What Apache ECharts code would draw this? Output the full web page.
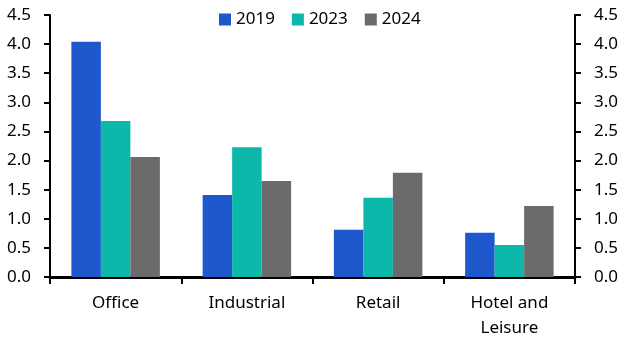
<!DOCTYPE html>
<html><head><meta charset="utf-8">
<script src="https://cdn.jsdelivr.net/npm/echarts@6/dist/echarts.min.js"></script>
<style>html,body{margin:0;padding:0;background:#fff}#c{width:628px;height:360px}</style>
</head><body><div id="c"></div>
<script>
const categories = ['Office', 'Industrial', 'Retail', 'Hotel and\nLeisure'];
const v2019 = [4.04, 1.41, 0.81, 0.76];
const v2023 = [2.68, 2.23, 1.36, 0.55];
const v2024 = [2.06, 1.65, 1.79, 1.22];
const yTicks = {min: 0, max: 4.5, interval: 0.5};

const FONT = 'Noto Sans';
const chart = echarts.init(document.getElementById('c'));
const yAxisBase = (pos) => ({
  type: 'value', position: pos, min: yTicks.min, max: yTicks.max, interval: yTicks.interval,
  axisLine: {show: true, lineStyle: {color: '#000', width: 2}},
  axisTick: {show: true, length: 6, lineStyle: {color: '#000', width: 2}},
  splitLine: {show: false},
  axisLabel: {color: '#000', fontFamily: FONT, fontSize: 17, margin: 19,
    formatter: v => v.toFixed(1)}
});
chart.setOption({
  animation: false,
  textStyle: {fontFamily: FONT},
  legend: {
    top: 6, left: 214, icon: 'rect', itemWidth: 12, itemHeight: 12, itemGap: 17, itemStyle: {borderWidth: 0},
    textStyle: {color: '#000', fontFamily: FONT, fontSize: 17},
    data: ['2019', '2023', '2024']
  },
  grid: {left: 50, right: 53, top: 15, bottom: 83, containLabel: false},
  xAxis: {
    type: 'category', data: categories,
    axisLine: {lineStyle: {color: '#000', width: 3}},
    axisTick: {show: true, length: 7, lineStyle: {color: '#000', width: 2}},
    axisLabel: {color: '#000', fontFamily: FONT, fontSize: 17, margin: 14, lineHeight: 25, interval: 0}
  },
  yAxis: [yAxisBase('left'), yAxisBase('right')],
  series: [
    {name: '2019', type: 'bar', data: v2019, barWidth: 29.5, barGap: '0%', itemStyle: {color: '#1f57cc'}},
    {name: '2023', type: 'bar', data: v2023, barWidth: 29.5, barGap: '0%', itemStyle: {color: '#0cb8aa'}},
    {name: '2024', type: 'bar', data: v2024, barWidth: 29.5, barGap: '0%', itemStyle: {color: '#6b6b6b'}}
  ]
});
</script></body></html>
